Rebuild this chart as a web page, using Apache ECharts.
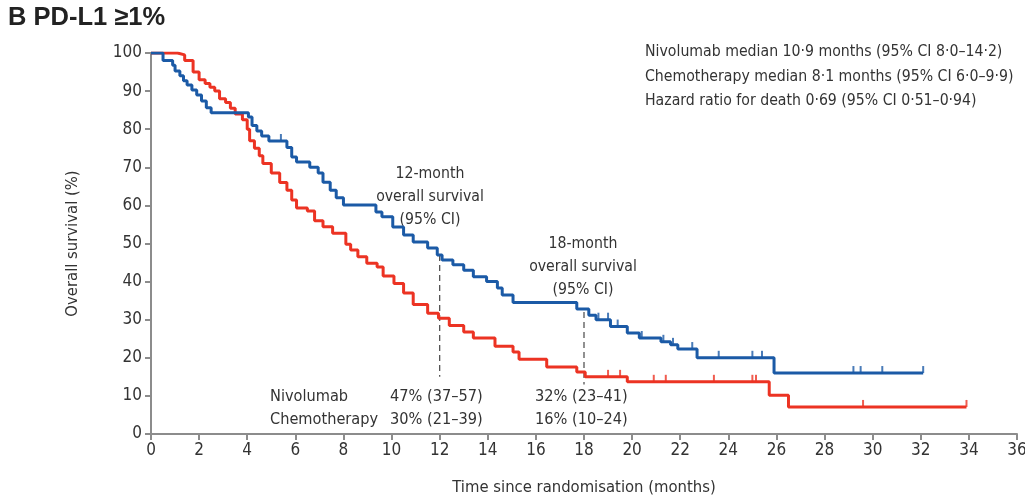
<!DOCTYPE html>
<html>
<head>
<meta charset="utf-8">
<script src="https://cdn.jsdelivr.net/npm/echarts@6/dist/echarts.min.js"></script>
<style>
  html, body { margin: 0; padding: 0; background: #fff; }
  #chart { width: 1025px; height: 498px; }
</style>
</head>
<body>
<div id="chart"></div>
<script>
// Kaplan–Meier steps: [month, % surviving after the event]
const nivolumabSteps = [
  [0,100],[0.5,98],[0.9,96.8],[1.0,95.3],[1.2,94],[1.35,92.7],[1.5,91.6],[1.7,90.3],
  [1.9,89],[2.1,87.4],[2.3,85.6],[2.5,84.3],[4.05,83.2],[4.2,81],[4.4,79.5],[4.6,78.2],
  [4.9,76.9],[5.65,75.2],[5.85,72.7],[6.05,71.4],[6.6,70],[6.95,68.5],[7.15,66.1],
  [7.45,64],[7.7,62],[8.0,60.1],[9.35,58.3],[9.6,57],[10.05,54.3],[10.5,52.2],
  [10.9,50.4],[11.5,48.8],[11.9,47],[12.1,45.7],[12.55,44.4],[13.0,43],[13.4,41.3],
  [13.95,40],[14.4,38.3],[14.6,36.5],[15.05,34.5],[17.7,32.8],[18.2,31.2],[18.5,30],
  [19.1,28.2],[19.8,26.5],[20.3,25.2],[21.2,24.2],[21.6,23.4],[21.9,22.3],[22.7,20],
  [25.9,16],[32.1,16]
];
const chemotherapySteps = [
  [0,100],[1.1,99.5],[1.4,98],[1.75,95],[2.0,93],[2.25,92],[2.45,91],[2.65,90],
  [2.85,88],[3.1,87],[3.3,85.5],[3.5,84],[3.8,82.5],[4.0,80],[4.1,77],[4.3,75],
  [4.5,73],[4.65,71],[5.0,68.5],[5.35,66],[5.65,64],[5.85,61.4],[6.05,59.3],[6.5,58.5],
  [6.8,56],[7.15,54.4],[7.55,52.7],[8.1,49.8],[8.3,48.3],[8.6,46.5],[8.97,44.8],
  [9.4,43.8],[9.65,41.5],[10.1,39.5],[10.5,37],[10.9,34],[11.5,31.7],[11.95,30.4],
  [12.4,28.5],[13.0,26.8],[13.4,25.2],[14.3,23],[15.05,21.5],[15.3,19.6],[16.45,17.6],
  [17.7,16.3],[18.05,15],[19.8,13.7],[25.7,10.2],[26.5,7.1],[33.9,7.1]
];
// Censored observations (months)
const nivolumabCensored = [5.4,18.6,19.0,19.4,20.4,21.3,21.7,22.5,23.6,25.0,25.4,29.2,29.5,30.4,32.1];
const chemotherapyCensored = [19.0,19.5,20.9,21.4,23.4,25.0,25.15,29.6,33.9];

// Landmark survival estimates
const landmarkMonths = [12, 18];
const landmarkNivolumab = [47, 32];
const landmarkDashBottom = [15, 13];
const tableRows = [
  ['Nivolumab', '47% (37–57)', '32% (23–41)'],
  ['Chemotherapy', '30% (21–39)', '16% (10–24)']
];
const summaryLines = [
  'Nivolumab median 10·9 months (95% CI 8·0–14·2)',
  'Chemotherapy median 8·1 months (95% CI 6·0–9·9)',
  'Hazard ratio for death 0·69 (95% CI 0·51–0·94)'
];

const BLUE = '#1b5aa6';
const RED = '#ec3323';
const AXIS = '#8c8c8c';
const TXT = '#333';
const FONT = '"DejaVu Sans Condensed", "Liberation Sans", Arial, sans-serif';

function survivalAt(steps, t) {
  let v = steps[0][1];
  for (const [m, s] of steps) { if (m <= t) v = s; else break; }
  return v;
}

const chart = echarts.init(document.getElementById('chart'), null, { renderer: 'canvas' });

const dashSeries = landmarkMonths.map((m, i) => ({
  type: 'line',
  data: [[m, landmarkNivolumab[i]], [m, landmarkDashBottom[i]]],
  symbol: 'none',
  silent: true,
  z: 1,
  lineStyle: { color: '#555', width: 1.3, type: [6, 4] }
}));

function censorSeries(times, steps, color) {
  return {
    type: 'scatter',
    data: times.map(t => [t, survivalAt(steps, t)]),
    symbol: 'rect',
    symbolSize: [2, 7],
    symbolOffset: [0, -3.5],
    itemStyle: { color: color },
    silent: true,
    z: 4
  };
}

const txt = (x, y, text, extra) => ({
  type: 'text', x, y,
  style: Object.assign({ text, fill: TXT, font: '15.7px ' + FONT }, extra || {})
});

const graphics = [
  txt(8, 5, 'B PD-L1 ≥1%', { font: 'bold 25.5px "Liberation Sans", Arial, sans-serif', fill: '#222' }),
  txt(430, 197, '12-month\noverall survival\n(95% CI)', { textAlign: 'center', lineHeight: 23, textVerticalAlign: 'middle' }),
  txt(583, 267, '18-month\noverall survival\n(95% CI)', { textAlign: 'center', lineHeight: 23, textVerticalAlign: 'middle' })
];
summaryLines.forEach((s, i) => graphics.push(txt(645, 52 + i * 24.5, s, { textVerticalAlign: 'middle' })));
tableRows.forEach((r, i) => {
  const y = 397 + i * 23;
  graphics.push(txt(270, y, r[0], { textVerticalAlign: 'middle', font: '16.2px ' + FONT }));
  graphics.push(txt(390, y, r[1], { textVerticalAlign: 'middle', font: '16.2px ' + FONT }));
  graphics.push(txt(535, y, r[2], { textVerticalAlign: 'middle', font: '16.2px ' + FONT }));
});

chart.setOption({
  animation: false,
  backgroundColor: '#fff',
  grid: { left: 151, right: 8, top: 53, bottom: 64, outerBoundsMode: 'none', containLabel: false },
  xAxis: {
    type: 'value', min: 0, max: 36, interval: 2,
    name: 'Time since randomisation (months)',
    nameLocation: 'middle', nameGap: 45,
    nameTextStyle: { color: TXT, fontSize: 16.5, fontFamily: FONT },
    axisLine: { show: true, onZero: false, lineStyle: { color: AXIS, width: 2 } },
    axisTick: { show: true, length: 6, lineStyle: { color: AXIS, width: 2 } },
    axisLabel: { color: TXT, fontSize: 17, fontFamily: FONT, margin: 8 },
    splitLine: { show: false }
  },
  yAxis: {
    type: 'value', min: 0, max: 100, interval: 10,
    name: 'Overall survival (%)',
    nameLocation: 'middle', nameGap: 70, nameRotate: 90,
    nameTextStyle: { color: TXT, fontSize: 16.5, fontFamily: FONT },
    axisLine: { show: true, lineStyle: { color: AXIS, width: 2 } },
    axisTick: { show: true, length: 6, lineStyle: { color: AXIS, width: 2 } },
    axisLabel: { color: TXT, fontSize: 17, fontFamily: FONT, margin: 9 },
    splitLine: { show: false }
  },
  series: [
    ...dashSeries,
    {
      name: 'Chemotherapy', type: 'line', step: 'end', data: chemotherapySteps,
      symbol: 'none', z: 2, lineStyle: { color: RED, width: 3 }
    },
    {
      name: 'Nivolumab', type: 'line', step: 'end', data: nivolumabSteps,
      symbol: 'none', z: 3, lineStyle: { color: BLUE, width: 3 }
    },
    censorSeries(chemotherapyCensored, chemotherapySteps, RED),
    censorSeries(nivolumabCensored, nivolumabSteps, BLUE)
  ],
  graphic: graphics
});
</script>
</body>
</html>
